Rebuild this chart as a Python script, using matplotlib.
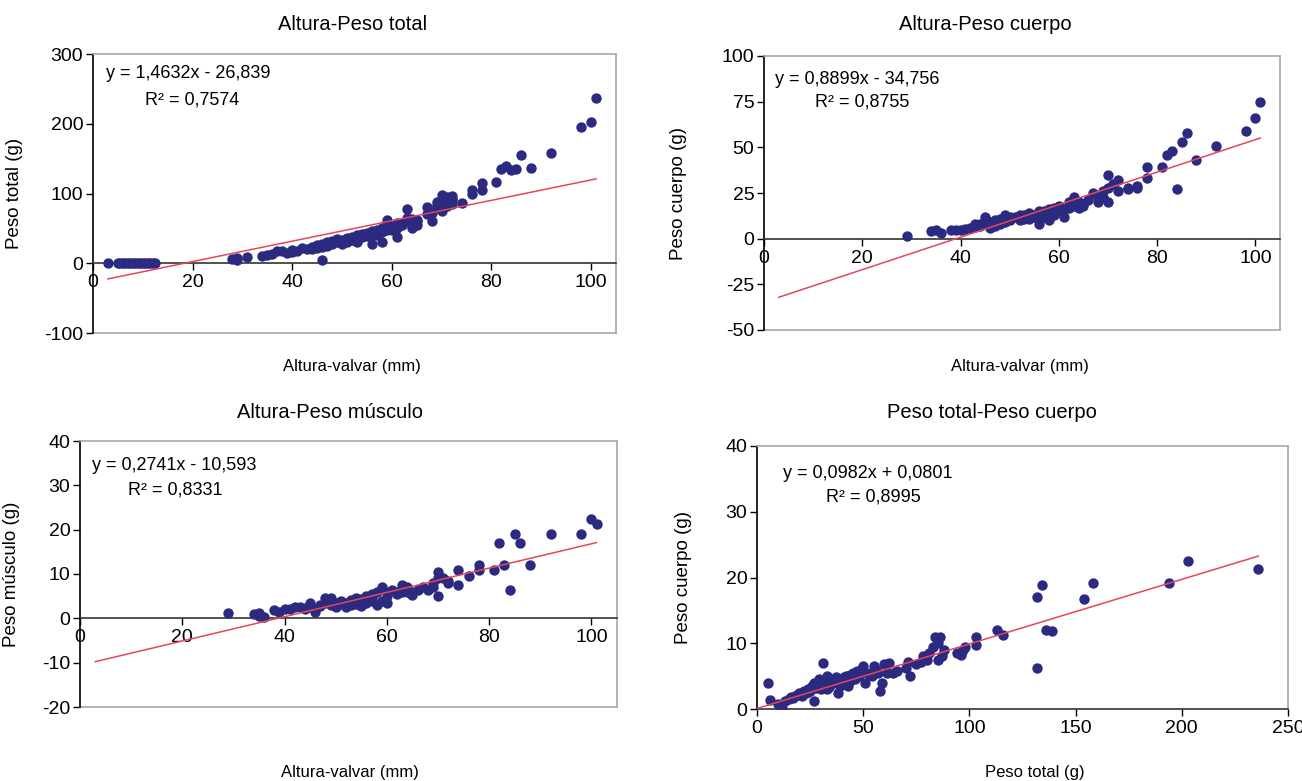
import matplotlib
matplotlib.use("Agg")
import numpy as np
import matplotlib.pyplot as plt

plt.rcParams['font.family'] = ['Liberation Sans', 'DejaVu Sans']
plt.rcParams['axes.unicode_minus'] = False

# %% data
# Altura-Peso total
alt_total = [3, 5, 5.5, 6, 6.5, 7, 7.5, 8, 8.5, 9, 9.5, 10, 10.5, 11, 11.5, 12, 12.5,
             28, 29, 29, 31, 34, 35, 36, 37, 38, 39, 40, 40, 41, 42, 43, 44, 45, 45, 46, 46,
             47, 47, 48, 48, 49, 49, 50, 50, 51, 51, 52, 52, 53, 53, 54, 54, 55, 55, 56, 56,
             56, 57, 57, 58, 58, 58, 59, 59, 60, 60, 61, 61, 62, 62, 63, 63, 63, 64, 64, 64,
             65, 65, 67, 67, 68, 68, 69, 69, 69, 70, 70, 70, 71, 71, 71, 72, 72, 72, 74, 76,
             76, 78, 78, 81, 82, 83, 84, 85, 86, 88, 92, 98, 100, 101,
             44, 46, 48, 50, 52, 54, 57, 59, 61, 65, 70, 72]
peso_total = [0, 0, 0, 0, 0, 0, 0, 0, 0, 0, 0, 0, 0, 0, 0, 0, 0,
              6, 7, 4, 9, 10, 12, 13, 17, 18, 14, 16, 19, 18, 22, 21, 24, 22, 26, 24, 4,
              25, 30, 27, 32, 35, 30, 33, 28, 36, 31, 38, 34, 40, 30, 42, 37, 44, 39, 46, 40,
              27, 48, 43, 50, 30, 45, 62, 55, 52, 48, 57, 38, 58, 55, 78, 65, 60, 64, 55, 50,
              62, 60, 80, 70, 72, 60, 88, 84, 80, 98, 90, 75, 95, 88, 82, 96, 90, 85, 87, 105,
              100, 115, 105, 117, 135, 140, 133, 135, 155, 137, 158, 195, 203, 237,
              20, 27, 29, 31, 35, 39, 40, 47, 50, 55, 86, 92]

# Altura-Peso cuerpo
alt_cuerpo = [29, 34, 35, 36, 38, 39, 40, 41, 42, 43, 43, 44, 45, 45, 46, 46, 47, 47, 48, 48,
              49, 49, 50, 50, 51, 52, 52, 53, 53, 54, 54, 55, 55, 56, 56, 57, 57, 58, 58, 59,
              59, 60, 60, 61, 62, 62, 63, 63, 64, 64, 65, 65, 67, 68, 68, 69, 69, 70, 70, 70,
              71, 72, 72, 74, 74, 76, 76, 78, 78, 81, 82, 83, 84, 85, 86, 88, 92, 98, 100, 101,
              44, 47, 50, 53, 56, 58, 61, 66]
peso_cuerpo = [1.5, 4, 4.5, 3, 4.5, 5, 5, 5.5, 6, 6.5, 8, 7, 12, 8, 9, 6, 10, 7, 8, 11,
               13, 9, 11, 10, 12, 13, 10, 12, 11, 14, 11, 13, 12, 8, 15, 15, 12, 16, 10, 17,
               13, 18, 15, 12, 17, 20, 23, 18, 20, 17, 19, 18, 25, 22, 20, 26, 23, 35, 28, 20,
               30, 32, 26, 28, 27, 28, 29, 39, 33, 39, 46, 48, 27, 53, 58, 43, 51, 59, 66, 75,
               8, 9, 12, 13, 11, 14, 16, 21]

# Altura-Peso musculo
alt_musculo = [29, 34, 35, 35, 36, 38, 39, 40, 41, 42, 43, 44, 45, 45, 46, 46, 47, 48, 48, 49,
               49, 50, 50, 51, 52, 52, 53, 53, 54, 54, 55, 55, 56, 56, 57, 57, 58, 58, 59, 59,
               60, 60, 61, 62, 63, 63, 64, 64, 65, 65, 67, 68, 69, 69, 70, 70, 70, 71, 72, 72,
               74, 74, 76, 78, 78, 81, 82, 83, 84, 85, 86, 88, 92, 98, 100, 101,
               44, 47, 49, 51, 53, 55, 57, 60, 62, 66]
peso_musculo = [1.3, 1, 1.2, 0.5, 0.3, 1.8, 1.5, 2, 2.2, 2.5, 2.6, 2.4, 3.5, 2.5, 2, 1.5, 3, 4.5, 3.5, 4.5,
                3, 3.5, 2.5, 4, 3.5, 2.5, 4.2, 3, 4.5, 3.2, 4, 2.8, 5, 3.5, 5.5, 4, 6, 3, 7, 4,
                6, 3.5, 6.5, 5.5, 7.5, 6, 7, 6, 6, 5.2, 7, 6.5, 8, 7, 10.5, 9, 5, 9, 8.5, 8,
                11, 7.5, 9.5, 12, 11, 11, 17, 12, 6.5, 19, 17, 12, 19, 19, 22.5, 21.2,
                2, 2.8, 3.8, 3.2, 3.6, 4.4, 4.6, 5, 6, 6.5]

# Peso total-Peso cuerpo
pt_x = [5, 6, 10, 11, 12, 13, 15, 16, 18, 19, 20, 21, 22, 23, 24, 25, 26, 27, 27, 28,
        29, 30, 31, 31, 32, 33, 33, 34, 35, 36, 37, 38, 39, 40, 41, 42, 43, 44, 45, 46,
        47, 48, 49, 50, 51, 52, 54, 55, 56, 57, 58, 59, 60, 61, 62, 64, 66, 70, 71, 72,
        75, 77, 78, 80, 81, 83, 84, 85, 85, 86, 87, 88, 94, 96, 97, 98, 103, 103, 113, 116,
        132, 132, 134, 136, 139, 154, 158, 194, 203, 236,
        17, 24, 28, 30, 34, 36, 44, 48, 53]
pc_y = [4, 1.3, 0.8, 0.5, 0.2, 1.2, 1.5, 1.8, 2, 2.2, 2.5, 2, 2.8, 2.5, 3, 2.8, 3.5, 1.2, 4, 3.2,
        4.5, 3.8, 4, 7, 4.2, 5, 3, 4.5, 3.8, 4, 4.8, 2.5, 3.5, 4.5, 4.8, 5, 3.5, 5.2, 5.5, 4.5,
        5.8, 5, 6, 6.5, 4, 5.5, 5, 6.5, 6, 5.5, 2.8, 4, 6.8, 5.5, 7, 5.5, 5.8, 6.2, 7.2, 5,
        6.8, 7.2, 8, 7.5, 8.5, 9.5, 11, 10, 7.5, 11, 8, 9, 8.5, 8.2, 9, 9.5, 11, 9.8, 12, 11.2,
        17, 6.2, 18.8, 12, 11.8, 16.8, 19.2, 19.2, 22.5, 21.3,
        1.6, 2.6, 3.8, 3, 3.4, 4.4, 4.2, 5.4, 5.2]

# trend lines (Excel equations)
slopes = [1.4632, 0.8899, 0.2741, 0.0982]
intercepts = [-26.839, -34.756, -10.593, 0.0801]
r2 = ['0,7574', '0,8755', '0,8331', '0,8995']
eqs = ['y = 1,4632x - 26,839', 'y = 0,8899x - 34,756', 'y = 0,2741x - 10,593', 'y = 0,0982x + 0,0801']

# %%
NAVY = '#2B2A80'
RED = '#E6455A'
GRAY = '#A8A8A8'

fig = plt.figure(figsize=(13.02, 7.81), dpi=100)
W, H = 1302, 781


def px_axes(l, t, r, b):
    return fig.add_axes([l / W, 1 - b / H, (r - l) / W, (b - t) / H])


def excel_style(ax, zero_axis=True):
    ax.spines['left'].set_color('black')
    ax.spines['left'].set_linewidth(1.2)
    for s in ['top', 'right']:
        ax.spines[s].set_color(GRAY)
        ax.spines[s].set_linewidth(1.2)
    ax.spines['bottom'].set_color('#333333')
    ax.spines['bottom'].set_linewidth(1.2)
    if zero_axis:
        ax.spines['bottom'].set_position(('data', 0))
        ax.plot([0, 1], [0, 0], transform=ax.transAxes, color=GRAY, lw=1.2, clip_on=False)
    ax.tick_params(axis='both', direction='out', length=5, width=1, labelsize=14, pad=3)
    ax.tick_params(axis='y', pad=2)


axes_px = [(93, 54, 616, 333), (764, 56, 1280, 330), (80, 441, 617, 707), (757, 446, 1288, 709)]
xs = [alt_total, alt_cuerpo, alt_musculo, pt_x]
ys = [peso_total, peso_cuerpo, peso_musculo, pc_y]
xlims = [(0, 105), (0, 105), (0, 105), (0, 250)]
ylims = [(-100, 300), (-50, 100), (-20, 40), (0, 40)]
yticks = [np.arange(-100, 301, 100), np.arange(-50, 101, 25), np.arange(-20, 41, 10), np.arange(0, 41, 10)]
xticks = [np.arange(0, 101, 20)] * 3 + [np.arange(0, 251, 50)]
line_x = [(3, 101), (3, 101), (3, 101), (0, 236)]
ylabels = ['Peso total (g)', 'Peso cuerpo (g)', 'Peso músculo (g)', 'Peso cuerpo (g)']
ylab_x = [23, 687, 20, 692]
titles = ['Altura-Peso total', 'Altura-Peso cuerpo', 'Altura-Peso músculo', 'Peso total-Peso cuerpo']
title_pos = [(353, 25), (985, 25), (330, 412), (992, 412)]
xlabels = ['Altura-valvar (mm)', 'Altura-valvar (mm)', 'Altura-valvar (mm)', 'Peso total (g)']
xlab_pos = [(352, 366), (1020, 366), (350, 772), (1035, 772)]
eq_pos = [(106, 74), (775, 80), (92, 466), (783, 473)]
r2_pos = [(145, 100), (815, 102), (128, 490), (826, 497)]

for i in range(4):
    ax = px_axes(*axes_px[i])
    excel_style(ax, zero_axis=(i < 3))
    ax.scatter(xs[i], ys[i], s=56, color=NAVY, zorder=3, linewidths=0)
    lx = np.array(line_x[i])
    ax.plot(lx, slopes[i] * lx + intercepts[i], color=RED, lw=1.1, zorder=4)
    ax.set_xlim(*xlims[i])
    ax.set_ylim(*ylims[i])
    ax.set_xticks(xticks[i])
    ax.set_yticks(yticks[i])
    ax.set_ylabel(ylabels[i], fontsize=13.5)
    l, t, r, b = axes_px[i]
    ax.yaxis.set_label_coords((ylab_x[i] - l) / (r - l), 0.5)

    fig.text(title_pos[i][0] / W, 1 - title_pos[i][1] / H, titles[i],
             ha='center', va='center', fontsize=14.5)
    fig.text(xlab_pos[i][0] / W, 1 - xlab_pos[i][1] / H, xlabels[i],
             ha='center', va='center', fontsize=12)
    fig.text(eq_pos[i][0] / W, 1 - eq_pos[i][1] / H, eqs[i],
             ha='left', va='center', fontsize=13)
    fig.text(r2_pos[i][0] / W, 1 - r2_pos[i][1] / H, 'R² = ' + r2[i],
             ha='left', va='center', fontsize=13)

fig.savefig('out.png', dpi=100)
